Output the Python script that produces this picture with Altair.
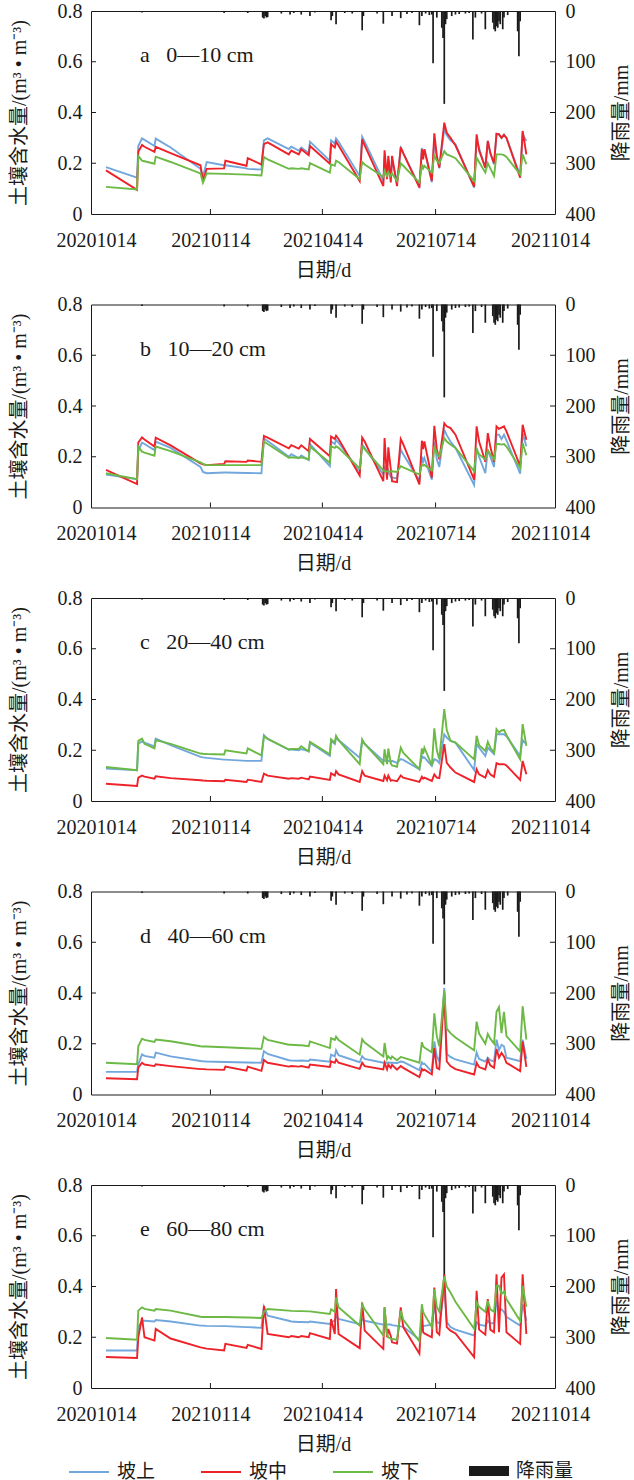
import altair as alt
import pandas as pd

START = "2020-10-14"
END = "2021-10-14"

# day offsets (from START) of the points
KEY_DAYS = [
    8, 33, 34, 37, 39, 47, 48, 60, 84, 86, 89,
    103, 104, 121, 122, 133, 135, 138, 155, 157, 163,
    165, 171, 172, 188, 189, 192, 193, 195, 212, 214, 216,
    231, 232, 234, 235, 237, 238, 242, 245, 247, 260, 262, 263,
    264, 270, 272, 274, 276, 280, 282, 285, 289,
    304, 306, 308, 313, 315, 317, 320,
    322, 324, 326, 328, 330, 341, 343, 346,
]

# ---- a 0-10 cm
A_UP = [0.185, 0.143, 0.268, 0.298, 0.292, 0.268, 0.297, 0.262, 0.178, 0.148, 0.205,
        0.192, 0.192, 0.180, 0.178, 0.175, 0.290, 0.298, 0.256, 0.265, 0.250,
        0.262, 0.240, 0.285, 0.210, 0.290, 0.278, 0.298, 0.285, 0.150, 0.304, 0.285,
        0.130, 0.222, 0.145, 0.215, 0.140, 0.215, 0.124, 0.260, 0.240, 0.110, 0.260, 0.230,
        0.255, 0.125, 0.294, 0.220, 0.180, 0.334, 0.310, 0.290, 0.275,
        0.104, 0.294, 0.260, 0.180, 0.288, 0.240, 0.195,
        0.316, 0.312, 0.300, 0.312, 0.300, 0.150, 0.314, 0.288]
A_MID = [0.172, 0.095, 0.245, 0.272, 0.265, 0.245, 0.265, 0.240, 0.192, 0.130, 0.178,
         0.180, 0.210, 0.190, 0.220, 0.195, 0.275, 0.282, 0.235, 0.250, 0.235,
         0.255, 0.232, 0.268, 0.198, 0.275, 0.262, 0.285, 0.270, 0.130, 0.294, 0.270,
         0.110, 0.251, 0.137, 0.229, 0.124, 0.229, 0.110, 0.264, 0.240, 0.104, 0.255, 0.215,
         0.255, 0.130, 0.318, 0.230, 0.183, 0.360, 0.320, 0.300, 0.270,
         0.108, 0.314, 0.250, 0.183, 0.288, 0.240, 0.200,
         0.316, 0.315, 0.300, 0.312, 0.300, 0.143, 0.327, 0.235]
A_LOW = [0.107, 0.097, 0.228, 0.210, 0.208, 0.198, 0.226, 0.205, 0.160, 0.123, 0.160,
         0.158, 0.158, 0.155, 0.155, 0.152, 0.225, 0.215, 0.178, 0.180, 0.178,
         0.180, 0.176, 0.200, 0.163, 0.196, 0.190, 0.210, 0.205, 0.137, 0.205, 0.195,
         0.146, 0.170, 0.150, 0.165, 0.150, 0.160, 0.130, 0.200, 0.190, 0.124, 0.196, 0.180,
         0.190, 0.163, 0.229, 0.210, 0.200, 0.248, 0.235, 0.229, 0.220,
         0.130, 0.222, 0.205, 0.163, 0.200, 0.180, 0.150,
         0.235, 0.235, 0.235, 0.232, 0.225, 0.156, 0.235, 0.196]

# ---- b 10-20 cm
B_UP = [0.130, 0.112, 0.222, 0.256, 0.250, 0.226, 0.260, 0.235, 0.160, 0.140, 0.135,
        0.138, 0.138, 0.136, 0.136, 0.135, 0.272, 0.262, 0.200, 0.210, 0.195,
        0.205, 0.187, 0.250, 0.163, 0.260, 0.250, 0.267, 0.255, 0.143, 0.248, 0.235,
        0.130, 0.163, 0.125, 0.145, 0.120, 0.118, 0.115, 0.228, 0.210, 0.105, 0.200, 0.180,
        0.195, 0.110, 0.260, 0.190, 0.160, 0.306, 0.285, 0.260, 0.235,
        0.089, 0.235, 0.200, 0.135, 0.228, 0.200, 0.160,
        0.287, 0.287, 0.270, 0.287, 0.265, 0.133, 0.293, 0.241]
B_MID = [0.148, 0.092, 0.256, 0.276, 0.268, 0.240, 0.275, 0.245, 0.174, 0.170, 0.167,
         0.172, 0.182, 0.180, 0.185, 0.180, 0.282, 0.275, 0.233, 0.246, 0.232,
         0.245, 0.222, 0.270, 0.202, 0.280, 0.270, 0.283, 0.270, 0.126, 0.276, 0.260,
         0.104, 0.274, 0.110, 0.237, 0.150, 0.104, 0.100, 0.270, 0.250, 0.091, 0.263, 0.230,
         0.260, 0.117, 0.322, 0.230, 0.190, 0.332, 0.320, 0.313, 0.287,
         0.110, 0.320, 0.260, 0.180, 0.293, 0.240, 0.180,
         0.320, 0.310, 0.315, 0.320, 0.300, 0.163, 0.326, 0.267]
B_LOW = [0.135, 0.112, 0.240, 0.220, 0.216, 0.204, 0.240, 0.222, 0.178, 0.172, 0.167,
         0.167, 0.167, 0.167, 0.167, 0.167, 0.260, 0.250, 0.196, 0.198, 0.195,
         0.198, 0.190, 0.240, 0.176, 0.241, 0.235, 0.241, 0.235, 0.154, 0.241, 0.230,
         0.146, 0.143, 0.142, 0.143, 0.142, 0.143, 0.140, 0.163, 0.158, 0.130, 0.170, 0.165,
         0.168, 0.146, 0.241, 0.215, 0.200, 0.274, 0.260, 0.248, 0.235,
         0.143, 0.228, 0.210, 0.189, 0.225, 0.210, 0.190,
         0.250, 0.250, 0.248, 0.250, 0.240, 0.156, 0.254, 0.206]

# ---- c 20-40 cm
C_UP = [0.128, 0.121, 0.226, 0.235, 0.230, 0.215, 0.246, 0.220, 0.174, 0.172, 0.170,
        0.163, 0.163, 0.158, 0.158, 0.158, 0.260, 0.245, 0.203, 0.203, 0.200,
        0.205, 0.197, 0.230, 0.178, 0.237, 0.225, 0.250, 0.240, 0.171, 0.237, 0.225,
        0.158, 0.160, 0.156, 0.158, 0.155, 0.158, 0.150, 0.165, 0.162, 0.125, 0.178, 0.170,
        0.172, 0.138, 0.165, 0.160, 0.150, 0.263, 0.250, 0.237, 0.230,
        0.122, 0.225, 0.210, 0.178, 0.210, 0.200, 0.185,
        0.263, 0.263, 0.263, 0.263, 0.255, 0.178, 0.240, 0.224]
C_MID = [0.068, 0.059, 0.092, 0.100, 0.096, 0.088, 0.097, 0.090, 0.082, 0.081, 0.080,
         0.078, 0.084, 0.075, 0.084, 0.075, 0.108, 0.100, 0.088, 0.090, 0.088,
         0.092, 0.085, 0.096, 0.083, 0.109, 0.100, 0.118, 0.105, 0.075, 0.118, 0.100,
         0.079, 0.100, 0.082, 0.100, 0.080, 0.082, 0.078, 0.101, 0.092, 0.075, 0.096, 0.088,
         0.092, 0.079, 0.105, 0.092, 0.090, 0.224, 0.150, 0.132, 0.112,
         0.075, 0.125, 0.105, 0.092, 0.122, 0.105, 0.095,
         0.149, 0.145, 0.145, 0.145, 0.140, 0.083, 0.158, 0.105]
C_LOW = [0.134, 0.121, 0.237, 0.246, 0.225, 0.207, 0.240, 0.225, 0.187, 0.186, 0.185,
         0.183, 0.200, 0.187, 0.207, 0.180, 0.255, 0.245, 0.203, 0.205, 0.205,
         0.216, 0.195, 0.233, 0.184, 0.243, 0.230, 0.257, 0.240, 0.145, 0.243, 0.225,
         0.145, 0.204, 0.145, 0.207, 0.148, 0.140, 0.135, 0.210, 0.190, 0.125, 0.207, 0.185,
         0.210, 0.140, 0.286, 0.200, 0.165, 0.362, 0.280, 0.237, 0.230,
         0.164, 0.257, 0.220, 0.197, 0.233, 0.210, 0.190,
         0.283, 0.270, 0.278, 0.280, 0.260, 0.164, 0.303, 0.217]

# ---- d 40-60 cm
D_UP = [0.089, 0.089, 0.119, 0.158, 0.152, 0.145, 0.165, 0.150, 0.132, 0.131, 0.130,
        0.128, 0.128, 0.126, 0.126, 0.125, 0.171, 0.160, 0.135, 0.134, 0.133,
        0.134, 0.132, 0.138, 0.129, 0.157, 0.150, 0.174, 0.155, 0.127, 0.151, 0.140,
        0.125, 0.126, 0.125, 0.126, 0.125, 0.125, 0.124, 0.130, 0.128, 0.096, 0.127, 0.120,
        0.122, 0.090, 0.209, 0.150, 0.130, 0.420, 0.160, 0.148, 0.138,
        0.118, 0.166, 0.140, 0.130, 0.145, 0.135, 0.130,
        0.216, 0.175, 0.196, 0.190, 0.145, 0.131, 0.216, 0.140]
D_MID = [0.064, 0.060, 0.106, 0.125, 0.118, 0.112, 0.119, 0.112, 0.100, 0.100, 0.099,
         0.097, 0.110, 0.094, 0.110, 0.093, 0.136, 0.125, 0.110, 0.112, 0.110,
         0.112, 0.106, 0.118, 0.109, 0.131, 0.125, 0.138, 0.125, 0.101, 0.125, 0.112,
         0.099, 0.125, 0.099, 0.118, 0.105, 0.117, 0.098, 0.112, 0.105, 0.069, 0.101, 0.095,
         0.098, 0.079, 0.183, 0.105, 0.100, 0.400, 0.130, 0.112, 0.100,
         0.079, 0.125, 0.108, 0.099, 0.138, 0.115, 0.105,
         0.179, 0.145, 0.164, 0.150, 0.125, 0.092, 0.209, 0.109]
D_LOW = [0.125, 0.119, 0.190, 0.220, 0.215, 0.207, 0.217, 0.210, 0.190, 0.189, 0.189,
         0.186, 0.186, 0.182, 0.182, 0.180, 0.227, 0.215, 0.196, 0.196, 0.194,
         0.194, 0.190, 0.209, 0.183, 0.222, 0.215, 0.228, 0.215, 0.157, 0.218, 0.205,
         0.150, 0.203, 0.140, 0.150, 0.140, 0.150, 0.135, 0.148, 0.145, 0.125, 0.206, 0.190,
         0.185, 0.166, 0.320, 0.230, 0.190, 0.410, 0.260, 0.242, 0.225,
         0.174, 0.287, 0.240, 0.200, 0.239, 0.220, 0.200,
         0.326, 0.345, 0.242, 0.326, 0.230, 0.170, 0.348, 0.216]

# ---- e 60-80 cm
E_UP = [0.148, 0.148, 0.240, 0.265, 0.265, 0.262, 0.268, 0.262, 0.246, 0.246, 0.245,
        0.244, 0.244, 0.240, 0.240, 0.237, 0.320, 0.285, 0.265, 0.262, 0.260,
        0.260, 0.259, 0.262, 0.252, 0.260, 0.265, 0.285, 0.272, 0.252, 0.272, 0.265,
        0.250, 0.250, 0.250, 0.250, 0.250, 0.248, 0.245, 0.243, 0.242, 0.190, 0.246, 0.245,
        0.245, 0.250, 0.330, 0.260, 0.255, 0.390, 0.260, 0.240, 0.230,
        0.207, 0.259, 0.250, 0.245, 0.265, 0.255, 0.255,
        0.344, 0.300, 0.310, 0.300, 0.280, 0.246, 0.330, 0.265]
E_MID = [0.122, 0.118, 0.200, 0.278, 0.200, 0.187, 0.233, 0.195, 0.160, 0.158, 0.155,
         0.148, 0.174, 0.158, 0.170, 0.154, 0.324, 0.213, 0.200, 0.205, 0.200,
         0.205, 0.200, 0.216, 0.193, 0.272, 0.213, 0.390, 0.213, 0.157, 0.337, 0.226,
         0.154, 0.318, 0.200, 0.232, 0.205, 0.180, 0.175, 0.318, 0.240, 0.135, 0.310, 0.220,
         0.215, 0.200, 0.396, 0.220, 0.210, 0.448, 0.240, 0.226, 0.215,
         0.122, 0.383, 0.230, 0.210, 0.350, 0.230, 0.220,
         0.448, 0.220, 0.435, 0.448, 0.220, 0.174, 0.448, 0.213]
E_LOW = [0.197, 0.190, 0.305, 0.318, 0.312, 0.305, 0.311, 0.305, 0.281, 0.280, 0.280,
         0.280, 0.280, 0.278, 0.278, 0.276, 0.300, 0.311, 0.305, 0.304, 0.303,
         0.303, 0.302, 0.302, 0.292, 0.310, 0.300, 0.357, 0.318, 0.246, 0.330, 0.310,
         0.207, 0.318, 0.210, 0.200, 0.195, 0.193, 0.190, 0.305, 0.270, 0.184, 0.330, 0.300,
         0.290, 0.240, 0.390, 0.320, 0.300, 0.440, 0.400, 0.376, 0.340,
         0.233, 0.337, 0.320, 0.300, 0.344, 0.310, 0.300,
         0.403, 0.403, 0.370, 0.380, 0.350, 0.265, 0.403, 0.320]

# ---- daily rainfall (mm)
RAIN_DAYS = [37, 103, 122, 134, 135, 136, 137, 138, 149, 156,
             159, 165, 172, 176, 189, 190, 193, 200, 206, 214,
             215, 226, 231, 238, 245, 250, 254, 260, 262, 265,
             268, 270, 271, 274, 278, 279, 280, 281, 282, 286,
             289, 292, 297, 300, 303, 305, 310, 313, 319, 320,
             321, 322, 323, 324, 325, 327, 328, 331, 339, 340, 341]
RAIN_MM = [3, 4, 4, 13, 15, 10, 13, 12, 5, 7,
           4, 7, 10, 3, 18, 10, 26, 4, 5, 38,
           10, 5, 25, 10, 14, 6, 4, 28, 10, 5,
           8, 7, 103, 13, 33, 53, 183, 26, 16, 10,
           7, 6, 5, 4, 56, 13, 5, 36, 23, 36,
           40, 30, 33, 20, 26, 36, 13, 8, 40, 89, 20]

TICK_DATES = ["2020-10-14", "2021-01-14", "2021-04-14", "2021-07-14", "2021-10-14"]
SOIL_TICKS = [0, 0.2, 0.4, 0.6, 0.8]
RAIN_TICKS = [0, 100, 200, 300, 400]
SERIES = ["坡上", "坡中", "坡下"]
COLORS = ["#72a7dd", "#ee2229", "#6cb945"]
RAIN_LABEL = "降雨量"
SP = "\u00a0\u00a0\u00a0"
PANEL_LABELS = ["a" + SP + "0—10 cm", "b" + SP + "10—20 cm", "c" + SP + "20—40 cm",
                "d" + SP + "40—60 cm", "e" + SP + "60—80 cm"]
PANEL_SERIES = [(A_UP, A_MID, A_LOW), (B_UP, B_MID, B_LOW), (C_UP, C_MID, C_LOW),
                (D_UP, D_MID, D_LOW), (E_UP, E_MID, E_LOW)]

for trio in PANEL_SERIES:
    for s in trio:
        assert len(s) == len(KEY_DAYS), len(s)
assert len(RAIN_DAYS) == len(RAIN_MM)

# ---------------------------------------------------------------
W, H = 464, 203
FONT = "Liberation Serif, Noto Sans CJK SC"
INK = "#1a1a1a"

start = pd.Timestamp(START)


def dstr(d):
    return (start + pd.Timedelta(days=int(d))).strftime("%Y-%m-%d")


def ms(s):
    return int(pd.Timestamp(s, tz="UTC").timestamp() * 1000)


DATES = [dstr(d) for d in KEY_DAYS]
rain_df = pd.DataFrame({"date": [dstr(d) for d in RAIN_DAYS], "mm": RAIN_MM,
                        "lbl": RAIN_LABEL})
xtick_df = pd.DataFrame({"date": TICK_DATES[1:-1]})
ytick_df = pd.DataFrame({"t": SOIL_TICKS[1:-1]})

xscale = alt.Scale(type="utc", domain=[ms(START), ms(END)])
xaxis = alt.Axis(values=[ms(t) for t in TICK_DATES],
                 labelExpr="utcFormat(datum.value, '%Y%m%d')",
                 labelFlush=False, labelOverlap=False, labelPadding=16,
                 titlePadding=10, ticks=False, domain=False, grid=False)
X = alt.X("date:T", scale=xscale, axis=xaxis, title="日期/d")

stroke_legend = alt.Legend(orient="none", legendX=-23, legendY=1440, direction="horizontal",
                           title=None, symbolType="stroke", symbolSize=1600,
                           symbolStrokeWidth=2, columnPadding=41, labelOffset=7)
fill_legend = alt.Legend(orient="none", legendX=378, legendY=1440, title=None,
                         symbolType="M-1,-0.25H1V0.25H-1Z", symbolSize=1600,
                         symbolStrokeWidth=0, labelOffset=7)

panels = []
for label, trio in zip(PANEL_LABELS, PANEL_SERIES):
    rows = []
    for name, vals in zip(SERIES, trio):
        rows.append(pd.DataFrame({"date": DATES, "v": vals, "pos": name}))
    df = pd.concat(rows, ignore_index=True)

    rain = alt.Chart(rain_df).mark_bar(width=1.7).encode(
        x=X,
        y=alt.Y("mm:Q", scale=alt.Scale(domain=[0, 400], reverse=True),
                axis=alt.Axis(orient="right", values=RAIN_TICKS, format="d",
                              labelFlush=False, labelPadding=10, titlePadding=16,
                              titleAngle=270, titleBaseline="top",
                              ticks=False, domain=False, grid=False),
                title="降雨量/mm"),
        fill=alt.Fill("lbl:N", scale=alt.Scale(domain=[RAIN_LABEL], range=[INK]),
                      legend=fill_legend),
    )
    lines = alt.Chart(df).mark_line(strokeWidth=1.9).encode(
        x=X,
        y=alt.Y("v:Q", scale=alt.Scale(domain=[0, 0.8]),
                axis=alt.Axis(orient="left", values=SOIL_TICKS, format="~g",
                              labelFlush=False, labelPadding=9, titlePadding=28,
                              ticks=False, domain=False, grid=False),
                title="土壤含水量/(m³ • m⁻³)"),
        stroke=alt.Stroke("pos:N", scale=alt.Scale(domain=SERIES, range=COLORS),
                          legend=stroke_legend),
        order=alt.Order("date:T"),
    )
    xt = alt.Chart(xtick_df).mark_rule(color=INK, strokeWidth=1).encode(
        x=X, y=alt.value(H), y2=alt.value(H - 5))
    yl = alt.Chart(ytick_df).mark_rule(color=INK, strokeWidth=1).encode(
        y=alt.Y("t:Q", scale=alt.Scale(domain=[0, 0.8]), axis=None),
        x=alt.value(0), x2=alt.value(5))
    yr = alt.Chart(ytick_df).mark_rule(color=INK, strokeWidth=1).encode(
        y=alt.Y("t:Q", scale=alt.Scale(domain=[0, 0.8]), axis=None),
        x=alt.value(W - 5), x2=alt.value(W))
    txt = alt.Chart(pd.DataFrame({"label": [label]})).mark_text(
        align="left", baseline="middle", fontSize=22, font=FONT, color=INK).encode(
        text="label:N", x=alt.value(49), y=alt.value(44))

    panel = alt.layer(rain, lines, xt, yl, yr, txt).resolve_scale(
        y="independent").properties(width=W, height=H)
    panels.append(panel)

chart = alt.vconcat(*panels, spacing=90.5, bounds="flush").properties(
    padding={"left": 8, "top": 0, "right": 0, "bottom": 0}
).configure_view(stroke=INK, strokeWidth=1).configure_axis(
    labelFont=FONT, labelFontSize=20, labelColor=INK,
    titleFont=FONT, titleFontSize=20, titleFontWeight="normal", titleColor=INK,
).configure_legend(
    labelFont=FONT, labelFontSize=19, labelColor=INK,
)

chart.save("out.html", embed_options={"renderer": "svg", "actions": False})
